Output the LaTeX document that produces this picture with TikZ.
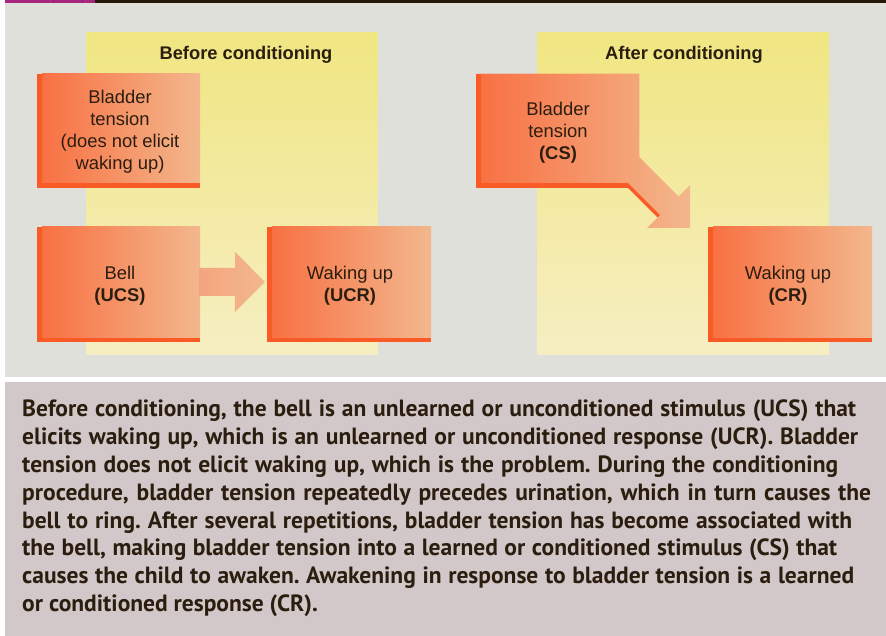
\documentclass[tikz,border=0pt]{standalone}
\usepackage{fontspec}
\setmainfont{Liberation Sans}
\newfontfamily\captionfont{PT Sans}
\usetikzlibrary{calc}
\frenchspacing

\definecolor{pagegrey}{HTML}{DFE0DA}
\definecolor{captionbg}{HTML}{D2C7C9}
\definecolor{padtop}{HTML}{F0E682}
\definecolor{padbot}{HTML}{F6EEC2}
\definecolor{boxdeep}{HTML}{F87143}
\definecolor{boxpale}{HTML}{F3B78D}
\definecolor{boxmid}{HTML}{F4A57D}
\definecolor{rim}{HTML}{FA5A26}
\definecolor{ink}{HTML}{2B1E0F}
\definecolor{barpurple}{HTML}{A8287F}
\definecolor{barseam}{HTML}{8F2270}
\definecolor{bardark}{HTML}{231A0B}

% one caption line, spread to a given width
\newcommand{\capline}[2]{\makebox[#1][s]{#2}}

\tikzset{
  stimbox/.style={rectangle, inner sep=0pt, left color=boxdeep, right color=boxpale,
    minimum width=158pt, minimum height=110pt},
  boxlabel/.style={inner sep=0pt, text=ink, align=center, font=\fontsize{18.4}{22}\selectfont},
  paneltitle/.style={inner sep=0pt, text=ink, font=\bfseries\fontsize{18.3}{22}\selectfont},
  pad/.style={top color=padtop, bottom color=padbot, draw=none},
}

\begin{document}
\begin{tikzpicture}[x=1pt,y=-1pt]
\useasboundingbox (0,0) rectangle (886,636);
\fill[white] (0,0) rectangle (886,636);

% header strip
\fill[barpurple] (5,0) rectangle (95,3.5);
\fill[barseam] (52.5,0) rectangle (53.5,3.5);
\fill[barseam] (81.5,0) rectangle (82.5,3.5);
\fill[bardark] (95,0) rectangle (886,3.5);

% figure panel and caption panel
\fill[pagegrey] (5,3.5) rectangle (886,376.5);
\fill[captionbg] (5,382) rectangle (886,636);

% yellow backdrops
\shade[pad] (86.5,33) rectangle (377.5,354);
\shade[pad] (537.5,33) rectangle (829,354);

\node[paneltitle] (titleA) at (246,54.5) {Before conditioning};
\node[paneltitle] (titleB) at (684,54.5) {After conditioning};

% ---- before conditioning ----
\fill[rim] (37,74) rectangle (200,188);
\node[stimbox, minimum height=109pt] (bladderA) at (121,128.5) {};
\node[boxlabel] (bladderAtext) at (120,132)
  {Bladder\\tension\\(does not elicit\\waking up)};

\fill[rim] (37,227) rectangle (200,342);
\node[stimbox] (bell) at (121,282) {};
\node[boxlabel] (belltext) at (120,285.5) {Bell\\\textbf{(UCS)}};

\fill[rim] (267,227) rectangle (431,342);
\node[stimbox, minimum width=159pt] (ucr) at (351.5,282) {};
\node[boxlabel] (ucrtext) at (350,285.5) {Waking up\\\textbf{(UCR)}};

\coordinate (tipA) at ($(ucr.west)+(-7pt,0)$);
\shade[left color=boxmid, right color=boxpale]
  (bell.east) ++(-1,-14) -- ++(36,0) -- ++(0,-16) -- (tipA)
  -- ++(-30,30) -- ++(0,-16) -- ++(-36,0) -- cycle;

% ---- after conditioning ----
\coordinate (tipB) at (690,228);
\fill[rim] (476,74) -- (476,188) -- (628,188) -- (658,218) -- (675,200)
  -- (639,157) -- (639,74) -- cycle;
\shade[left color=boxdeep, right color=boxpale]
  (481,74) -- (639,74) -- (639,157) -- (678.5,196.5) -- (690,185) -- (tipB)
  -- (647,228) -- (660,215) -- (628,183) -- (481,183) -- cycle;
\node[boxlabel] (bladderB) at (558,133) {Bladder\\tension\\\textbf{(CS)}};

\fill[rim] (708,227) rectangle (872,342);
\node[stimbox, minimum width=159pt] (cr) at (792.5,282) {};
\node[boxlabel] (crtext) at (788,285.5) {Waking up\\\textbf{(CR)}};

% ---- caption ----
\node[anchor=north west, inner sep=0pt, text=ink, align=left,
      font=\captionfont\bfseries\fontsize{23.5}{27.8}\selectfont] (caption) at (22,400)
{\capline{834pt}{Before conditioning, the bell is an unlearned or unconditioned stimulus (UCS) that}\\
\capline{836pt}{elicits waking up, which is an unlearned or unconditioned response (UCR). Bladder}\\
\capline{816pt}{tension does not elicit waking up, which is the problem. During the conditioning}\\
\capline{849pt}{procedure, bladder tension repeatedly precedes urination, which in turn causes the}\\
\capline{830pt}{bell to ring. After several repetitions, bladder tension has become associated with}\\
\capline{815pt}{the bell, making bladder tension into a learned or conditioned stimulus (CS) that}\\
\capline{832pt}{causes the child to awaken. Awakening in response to bladder tension is a learned}\\
or conditioned response (CR).};
\end{tikzpicture}
\end{document}
